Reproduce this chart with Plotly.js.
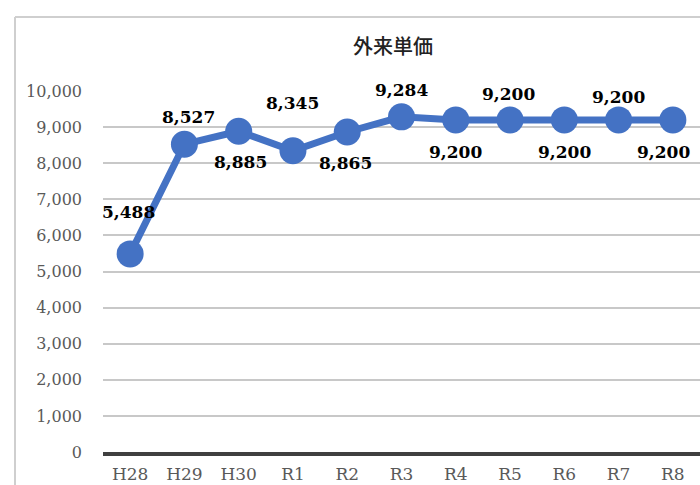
<!DOCTYPE html>
<html>
<head>
<meta charset="utf-8">
<script src="https://cdn.plot.ly/plotly-3.0.1.min.js"></script>
<style>html,body{margin:0;padding:0;background:#fff;}#chart{width:700px;height:485px;}</style>
</head>
<body>
<div id="chart"></div>
<script>
// Data
const categories = ["H28","H29","H30","R1","R2","R3","R4","R5","R6","R7","R8"];
const values = [5488, 8527, 8885, 8345, 8865, 9284, 9200, 9200, 9200, 9200, 9200];
const yTickVals = [0,1000,2000,3000,4000,5000,6000,7000,8000,9000,10000];

// Label placement (style)
const labelDy = [42, 27, -31, 48, -31, 27, -32, 26, -32, 23, -32];
const labelDx = [-2, 4, 2, 0, -2, 0, 0, -2, 0, 0, -9];

const PLOT_L = 103, PLOT_R = 700, PLOT_T = 91, PLOT_B = 452;
const W = PLOT_R - PLOT_L, H = PLOT_B - PLOT_T;
const px = x => (x - PLOT_L) / W;
const py = y => (PLOT_B - y) / H;

const fmt = v => v.toLocaleString('en-US');

const trace = {
  x: categories,
  y: values,
  type: 'scatter',
  mode: 'lines+markers',
  line: {color: '#4472C4', width: 7},
  marker: {color: '#4472C4', size: 27},
  cliponaxis: false,
  hoverinfo: 'skip'
};

const annotations = categories.map((c, i) => ({
  x: c, y: values[i], xref: 'x', yref: 'y',
  text: fmt(values[i]), showarrow: false,
  yshift: labelDy[i], xshift: labelDx[i],
  font: {family: 'DejaVu Serif', size: 17, color: '#000', weight: 'bold'}
}));

const border = '#cfcfcf';
const shapes = [
  {type: 'line', xref: 'paper', yref: 'paper', x0: px(15), x1: px(15), y0: py(17), y1: py(500), line: {color: border, width: 2}},
  {type: 'line', xref: 'paper', yref: 'paper', x0: px(15), x1: px(720), y0: py(17), y1: py(17), line: {color: border, width: 2}}
];

const layout = {
  width: 700, height: 485,
  margin: {l: PLOT_L, r: 700 - PLOT_R, t: PLOT_T, b: 485 - PLOT_B, pad: 0},
  paper_bgcolor: '#fff', plot_bgcolor: '#fff',
  showlegend: false,
  title: {
    text: '外来単価',
    font: {family: 'Noto Sans CJK JP', size: 20, color: '#222222', weight: 500},
    x: 393/700, xref: 'container', xanchor: 'center',
    y: 1 - 47/485, yref: 'container', yanchor: 'middle'
  },
  xaxis: {
    type: 'category',
    range: [-0.5, 10.5],
    showgrid: false,
    zeroline: false,
    showline: true, linecolor: '#404040', linewidth: 4,
    ticks: '',
    tickfont: {family: 'DejaVu Serif', size: 17, color: '#595959'},
    ticklabelstandoff: 4,
    fixedrange: true
  },
  yaxis: {
    range: [0, 10000],
    tickvals: yTickVals,
    ticktext: yTickVals.map(fmt),
    showgrid: true, gridcolor: '#c8c8c8', gridwidth: 2,
    zeroline: false, showline: false,
    ticks: '',
    tickfont: {family: 'DejaVu Serif', size: 16, color: '#595959'},
    ticklabelstandoff: 20,
    fixedrange: true
  },
  annotations: annotations,
  shapes: shapes
};

Plotly.newPlot('chart', [trace], layout, {displayModeBar: false, staticPlot: true});
</script>
</body>
</html>
